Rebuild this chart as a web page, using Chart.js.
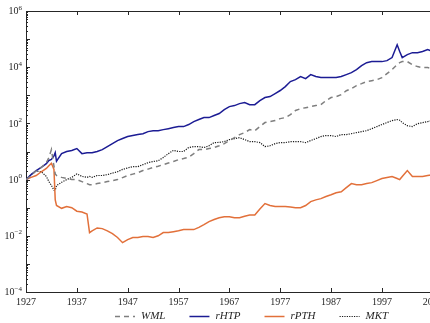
<!DOCTYPE html>
<html lang="en">
<head>
<meta charset="UTF-8">
<title>Cumulative returns, 1927-2007</title>
<script src="https://cdn.jsdelivr.net/npm/chart.js"></script>
<style>
    html, body { margin: 0; padding: 0; background: #fff; overflow: hidden; }
    #wrap { width: 430px; height: 323px; overflow: hidden; }
    canvas { display: block; }
</style>
</head>
<body>
<div id="wrap"><canvas id="returnsChart" width="470" height="323"></canvas></div>

<script>
// sample dates (a few half-year points around the 1932, 1939 and 2000 jumps)
const years = [1927, 1928, 1929, 1930, 1931, 1931.5, 1932, 1932.5, 1932.75, 1933,
    1934, 1935, 1936, 1937, 1938, 1939, 1939.5, 1940, 1941, 1942,
    1943, 1944, 1945, 1946, 1947, 1948, 1949, 1950, 1951, 1952,
    1953, 1954, 1955, 1956, 1957, 1958, 1959, 1960, 1961, 1962,
    1963, 1964, 1965, 1966, 1967, 1968, 1969, 1970, 1971, 1972,
    1973, 1974, 1975, 1976, 1977, 1978, 1979, 1980, 1981, 1982,
    1983, 1984, 1985, 1986, 1987, 1988, 1989, 1990, 1991, 1992,
    1993, 1994, 1995, 1996, 1997, 1998, 1999, 2000, 2000.5, 2001,
    2002, 2003, 2004, 2005, 2006, 2007];

// cumulative value of $1 invested in 1927
const wml = [1.0, 1.4, 2.1, 2.7, 4.0, 6.1, 11.7, 3.0, 1.6, 1.4,
    1.2, 1.1, 1.0, 1.0, 0.85, 0.72, 0.66, 0.66, 0.72, 0.78,
    0.85, 0.92, 1.0, 1.18, 1.39, 1.57, 1.77, 2.1, 2.36, 2.7,
    3.0, 3.4, 3.9, 4.4, 5.1, 5.6, 6.3, 8.4, 11.7, 11.7,
    12.7, 13.8, 16, 19, 24.5, 31, 40, 47, 60, 55,
    77, 107, 116, 126, 148, 161, 205, 287, 335, 363,
    396, 430, 465, 650, 830, 900, 1050, 1450, 1740, 2220,
    2600, 3090, 3320, 3600, 4270, 5900, 8200, 12300, 14500, 15800,
    15800, 12300, 10500, 9700, 9700, 8900];

const rhtp = [1.0, 1.5, 2.1, 2.7, 3.7, 4.8, 5.2, 7.0, 9.1, 4.5,
    8.4, 10, 10.8, 12.7, 8.4, 9.1, 9.1, 9.1, 10, 11.7,
    14.9, 19, 24.5, 29, 34, 37, 40, 43, 51, 55,
    55, 60, 65, 71, 77, 77, 91, 116, 137, 161,
    161, 190, 224, 310, 396, 430, 505, 550, 465, 465,
    650, 830, 900, 1150, 1480, 2040, 3090, 3600, 4650, 3900,
    5450, 4650, 4270, 4270, 4270, 4270, 4650, 5450, 6400, 8200,
    11400, 14500, 15800, 15800, 15800, 17100, 22000, 63000, 36000, 22000,
    28000, 33000, 33000, 36000, 42500, 36000];

const rpth = [1.0, 1.2, 1.4, 1.9, 2.5, 3.1, 3.8, 2.3, 0.19, 0.12,
    0.095, 0.11, 0.10, 0.075, 0.07, 0.06, 0.013, 0.015, 0.019, 0.018,
    0.015, 0.012, 0.0087, 0.0057, 0.0073, 0.0087, 0.0087, 0.0094, 0.0094, 0.0087,
    0.010, 0.013, 0.013, 0.014, 0.015, 0.0166, 0.0166, 0.0166, 0.020, 0.025,
    0.032, 0.038, 0.044, 0.048, 0.048, 0.044, 0.044, 0.05, 0.055, 0.055,
    0.09, 0.14, 0.12, 0.11, 0.11, 0.11, 0.105, 0.10, 0.10, 0.12,
    0.165, 0.19, 0.21, 0.25, 0.29, 0.34, 0.37, 0.52, 0.72, 0.66,
    0.66, 0.72, 0.78, 0.92, 1.09, 1.18, 1.28, 1.09, 1.0, 1.28,
    2.1, 1.28, 1.28, 1.28, 1.39, 1.5];

const mkt = [1.0, 1.5, 2.0, 1.9, 1.3, 0.85, 0.62, 0.42, 0.42, 0.61,
    0.8, 1.0, 1.2, 1.6, 1.3, 1.2, 1.3, 1.2, 1.4, 1.4,
    1.5, 1.7, 1.9, 2.3, 2.6, 2.9, 2.9, 3.4, 4.0, 4.4,
    4.7, 6.1, 8.4, 11, 10, 10, 13.8, 14.9, 14.9, 13.8,
    16, 20.7, 21, 22.5, 26.5, 28.7, 31, 26.5, 22.5, 22.5,
    20.7, 14.9, 16, 19, 20.7, 20.7, 22.5, 22.5, 22.5, 20.7,
    24.5, 28.7, 34, 37, 37, 34, 40, 40, 43, 47,
    51, 55, 65, 77, 91, 107, 126, 137, 130, 107,
    83, 77, 98, 107, 116, 126];

const seriesNames = ['WML', 'rHTP', 'rPTH', 'MKT'];
const yearTicks = [1927, 1937, 1947, 1957, 1967, 1977, 1987, 1997, 2007];
const decades = [-4, -3, -2, -1, 0, 1, 2, 3, 4, 5, 6];
const labelledDecades = [-4, -2, 0, 2, 4, 6];

const axisInk = '#262626';
const serif = "'Liberation Serif', 'Times New Roman', serif";

const toPoints = values => years.map((yr, i) => ({x: yr, y: values[i]}));

// inward ticks, top edge, power-of-ten labels and the legend row
const axesDecor = {
    id: 'axesDecor',
    afterDraw(chart) {
        const {ctx, chartArea: a, scales: {x, y}} = chart;
        ctx.save();
        ctx.strokeStyle = axisInk;
        ctx.lineWidth = 1;
        ctx.setLineDash([]);
        ctx.beginPath();
        ctx.moveTo(a.left, a.top + 0.5);
        ctx.lineTo(a.right, a.top + 0.5);

        yearTicks.forEach(yr => {
            const px = Math.round(x.getPixelForValue(yr)) + 0.5;
            ctx.moveTo(px, a.bottom);
            ctx.lineTo(px, a.bottom - 4);
            ctx.moveTo(px, a.top);
            ctx.lineTo(px, a.top + 4);
        });

        decades.forEach(p => {
            const base = Math.pow(10, p);
            const py = Math.round(y.getPixelForValue(base)) + 0.5;
            ctx.moveTo(a.left, py);
            ctx.lineTo(a.left + 4, py);
            if (p < decades[decades.length - 1]) {
                for (let m = 2; m <= 9; m++) {
                    const my = Math.round(y.getPixelForValue(m * base)) + 0.5;
                    ctx.moveTo(a.left, my);
                    ctx.lineTo(a.left + 2, my);
                }
            }
        });
        ctx.stroke();

        ctx.fillStyle = axisInk;
        labelledDecades.forEach(p => {
            const py = y.getPixelForValue(Math.pow(10, p));
            const exp = p < 0 ? '\u2212' + (-p) : String(p);
            ctx.font = '7px ' + serif;
            const ew = ctx.measureText(exp).width;
            ctx.textAlign = 'left';
            ctx.textBaseline = 'alphabetic';
            ctx.fillText(exp, a.left - 4 - ew, py - 1.5);
            ctx.font = '10px ' + serif;
            ctx.textAlign = 'right';
            ctx.textBaseline = 'middle';
            ctx.fillText('10', a.left - 4 - ew, py + 0.5);
        });

        // legend
        let lx = 115;
        const ly = 316.5;
        ctx.font = 'italic 11px ' + serif;
        ctx.textAlign = 'left';
        ctx.textBaseline = 'middle';
        chart.data.datasets.forEach(ds => {
            ctx.strokeStyle = ds.borderColor;
            ctx.lineWidth = ds.borderWidth;
            ctx.setLineDash(ds.borderDash || []);
            ctx.beginPath();
            ctx.moveTo(lx, ly);
            ctx.lineTo(lx + 20, ly);
            ctx.stroke();
            ctx.setLineDash([]);
            ctx.fillStyle = axisInk;
            ctx.fillText(ds.label, lx + 26, ly);
            lx += 26 + ctx.measureText(ds.label).width + 24;
        });
        ctx.restore();
    }
};

const ctx = document.getElementById('returnsChart').getContext('2d');
new Chart(ctx, {
    type: 'line',
    data: {
        datasets: [
            { label: seriesNames[0], data: toPoints(wml), borderColor: '#7f7f7f', borderWidth: 1.5, borderDash: [5, 4] },
            { label: seriesNames[1], data: toPoints(rhtp), borderColor: '#1c1c94', borderWidth: 1.5 },
            { label: seriesNames[2], data: toPoints(rpth), borderColor: '#e2703a', borderWidth: 1.5 },
            { label: seriesNames[3], data: toPoints(mkt), borderColor: '#1a1a1a', borderWidth: 1.2, borderDash: [1.2, 1.2] }
        ]
    },
    options: {
        responsive: false,
        animation: false,
        devicePixelRatio: 1,
        events: [],
        layout: { padding: { top: 11, right: 22, left: 0, bottom: 0 } },
        elements: {
            point: { radius: 0 },
            line: { tension: 0, fill: false }
        },
        scales: {
            x: {
                type: 'linear',
                min: 1927,
                max: 2010,
                afterBuildTicks: s => { s.ticks = yearTicks.map(v => ({ value: v })); },
                afterFit: s => { s.height = 31; },
                grid: { display: false, drawTicks: false },
                border: { display: true, color: axisInk, width: 1 },
                ticks: {
                    autoSkip: false,
                    maxRotation: 0,
                    padding: 4,
                    color: axisInk,
                    font: { family: serif, size: 10 },
                    callback: v => String(v)
                }
            },
            y: {
                type: 'logarithmic',
                min: 1e-4,
                max: 1e6,
                afterFit: s => { s.width = 26; },
                grid: { display: false, drawTicks: false },
                border: { display: true, color: axisInk, width: 1 },
                ticks: { display: false }
            }
        },
        plugins: {
            legend: { display: false },
            tooltip: { enabled: false }
        }
    },
    plugins: [axesDecor]
});
</script>
</body>
</html>
